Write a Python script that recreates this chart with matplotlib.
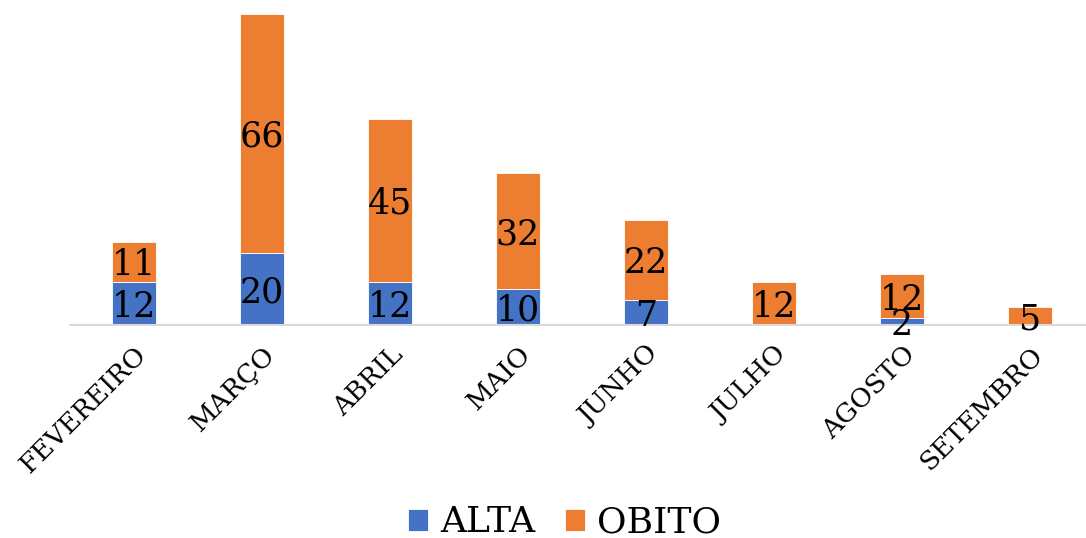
import numpy as np
import matplotlib
matplotlib.use('Agg')
import matplotlib.pyplot as plt

plt.rcParams['font.family'] = ['DejaVu Serif']

# dados
meses = ['FEVEREIRO', 'MARÇO', 'ABRIL', 'MAIO', 'JUNHO', 'JULHO', 'AGOSTO', 'SETEMBRO']
alta = [12, 20, 12, 10, 7, 0, 2, 0]
obito = [11, 66, 45, 32, 22, 12, 12, 5]

cor_alta = '#4472C4'
cor_obito = '#ED7D31'

fig = plt.figure(figsize=(10.86, 5.38), dpi=100)
ax = fig.add_axes([70/1086, 1 - 325/538, 1 - 70/1086, 325/538])

x = np.arange(len(meses))
w = 0.345
b1 = ax.bar(x, alta, w, color=cor_alta, edgecolor='white', linewidth=0.6, label='ALTA')
b2 = ax.bar(x, obito, w, bottom=alta, color=cor_obito, edgecolor='white', linewidth=0.6, label='OBITO')

for i in range(len(meses)):
    if alta[i] > 0:
        ax.text(x[i], alta[i] / 2, str(alta[i]), ha='center', va='center_baseline', fontsize=25, color='black')
    if obito[i] > 0:
        ax.text(x[i], alta[i] + obito[i] / 2, str(obito[i]), ha='center', va='center_baseline', fontsize=25, color='black')

ax.set_xlim(-0.5, (1086 - 134) / 128)
ax.set_ylim(0, 325 / 3.616)
ax.set_yticks([])
ax.set_xticks(x)
ax.set_xticklabels(meses, rotation=45, ha='right', va='top', rotation_mode='anchor', fontsize=19)
ax.tick_params(axis='x', length=0, pad=12)
for s in ['top', 'right', 'left']:
    ax.spines[s].set_visible(False)
ax.spines['bottom'].set_color('#D9D9D9')
ax.spines['bottom'].set_linewidth(1.5)

leg = fig.legend(loc='center', bbox_to_anchor=(0.52, 0.029), ncol=2, frameon=False, fontsize=26,
                 handlelength=0.55, handleheight=0.55, handletextpad=0.35, columnspacing=0.8)

plt.savefig('out.png', dpi=100)
